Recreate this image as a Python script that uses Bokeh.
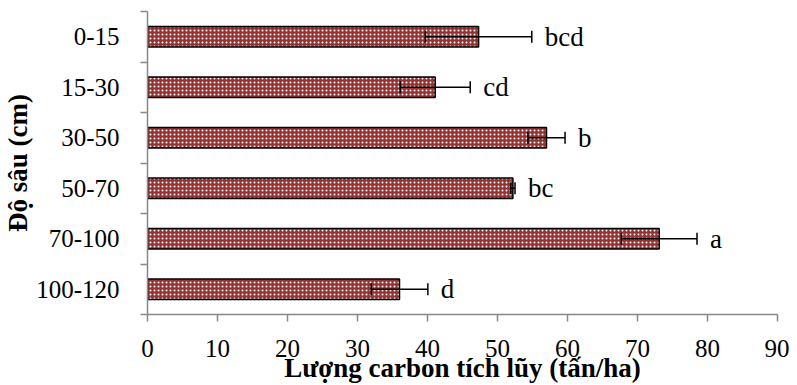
from bokeh.plotting import figure
from bokeh.models import ColumnDataSource, FixedTicker, Whisker, TeeHead, Range1d
from bokeh.core.properties import value
from bokeh.embed import file_html
from bokeh.resources import INLINE

depths = ["0-15", "15-30", "30-50", "50-70", "70-100", "100-120"]
carbon = [47.3, 41.1, 57.0, 52.2, 73.1, 36.0]
errors = [7.6, 5.0, 2.65, 0.3, 5.4, 4.05]
letters = ["bcd", "cd", "b", "bc", "a", "d"]
x_ticks = [0, 10, 20, 30, 40, 50, 60, 70, 80, 90]

n = len(depths)
ypos = [n - i - 0.5 for i in range(n)]
src = ColumnDataSource(dict(
    y=ypos, v=carbon, lo=[c - e for c, e in zip(carbon, errors)],
    hi=[c + e for c, e in zip(carbon, errors)], lab=letters))

FONT = "Liberation Serif"
p = figure(width=789, height=385, output_backend="svg", toolbar_location=None,
           x_range=Range1d(0, 90), y_range=Range1d(0, n),
           min_border_left=147, min_border_right=12, min_border_top=11,
           min_border_bottom=68)
p.outline_line_color = None
p.grid.visible = False

p.hbar(y="y", right="v", left=0, height=0.41, source=src,
       fill_color="#943333", line_color="black", line_width=1.5,
       hatch_pattern="dot", hatch_color="white", hatch_scale=4, hatch_weight=1.3)

w = Whisker(source=src, base="y", lower="lo", upper="hi", dimension="width",
            line_color="black", line_width=1.5, level="overlay",
            lower_head=TeeHead(size=12, line_color="black", line_width=1.5),
            upper_head=TeeHead(size=12, line_color="black", line_width=1.5))
p.add_layout(w)

p.text(x="hi", y="y", text="lab", source=src, x_offset=13,
       text_font=value(FONT), text_font_size="27px", text_baseline="middle",
       text_color="black")

ax = p.xaxis[0]
ax.ticker = FixedTicker(ticks=x_ticks)
ax.axis_line_color = "#888888"
ax.axis_line_width = 1.5
ax.major_tick_line_color = "#888888"
ax.major_tick_line_width = 1.5
ax.major_tick_out = 7
ax.major_tick_in = 0
ax.minor_tick_line_color = None
ax.major_label_text_font = FONT
ax.major_label_text_font_size = "25px"
ax.major_label_text_color = "black"
ax.major_label_standoff = 18
ax.axis_label = "Lượng carbon tích lũy (tấn/ha)"
ax.axis_label_text_font = FONT
ax.axis_label_text_font_size = "27px"
ax.axis_label_text_font_style = "bold"
ax.axis_label_text_color = "black"
ax.axis_label_standoff = -7

ay = p.yaxis[0]
ay.ticker = FixedTicker(ticks=ypos, minor_ticks=list(range(n + 1)))
ay.major_label_overrides = {v: d for v, d in zip(ypos, depths)}
ay.axis_line_color = "#888888"
ay.axis_line_width = 1.5
ay.major_tick_line_color = None
ay.major_tick_out = 0
ay.major_tick_in = 0
ay.minor_tick_line_color = "#888888"
ay.minor_tick_line_width = 1.5
ay.minor_tick_out = 7
ay.minor_tick_in = 0
ay.major_label_text_font = FONT
ay.major_label_text_font_size = "25px"
ay.major_label_text_color = "black"
ay.major_label_standoff = 21
ay.axis_label = "Độ sâu (cm)"
ay.axis_label_text_font = FONT
ay.axis_label_text_font_size = "27px"
ay.axis_label_text_font_style = "bold"
ay.axis_label_text_color = "black"
ay.axis_label_standoff = 0

open("out.html", "w").write(file_html(p, INLINE))
